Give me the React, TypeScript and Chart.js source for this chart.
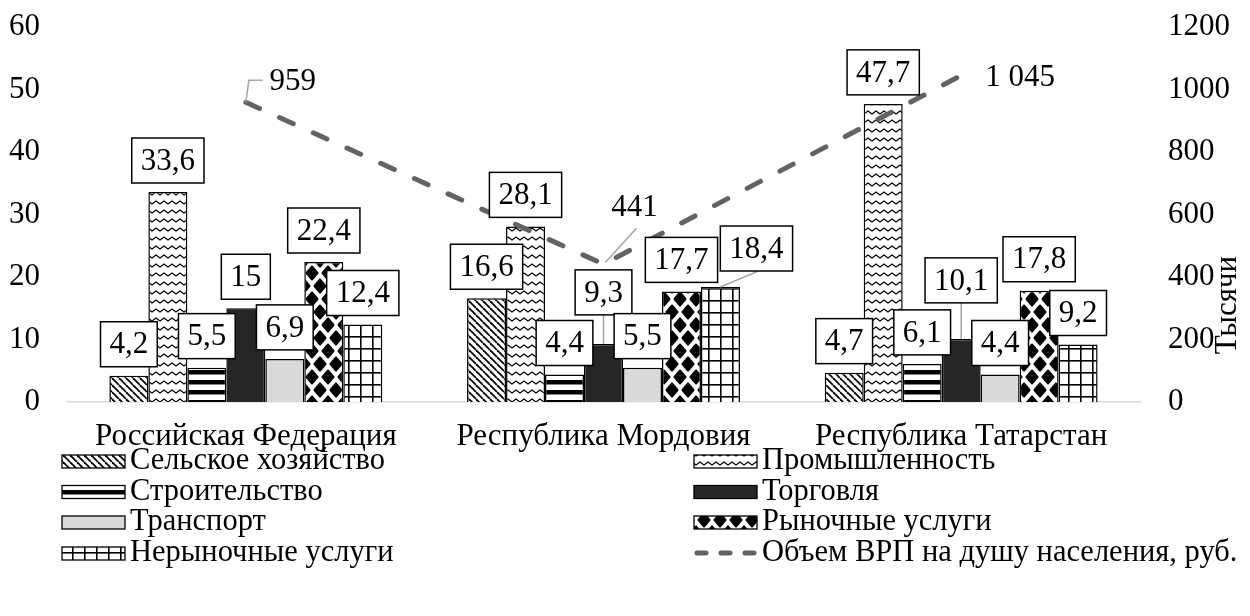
import React, { useEffect, useRef } from 'react';
import { Chart, registerables } from 'chart.js';

Chart.register(...registerables);

// ---------- data ----------
const categories = ['Российская Федерация', 'Республика Мордовия', 'Республика Татарстан'];
const seriesNames = [
  'Сельское хозяйство',
  'Промышленность',
  'Строительство',
  'Торговля',
  'Транспорт',
  'Рыночные услуги',
  'Нерыночные услуги',
];
const agriculture = [4.2, 16.6, 4.7];
const industry = [33.6, 28.1, 47.7];
const construction = [5.5, 4.4, 6.1];
const trade = [15, 9.3, 10.1];
const transport = [6.9, 5.5, 4.4];
const marketServices = [22.4, 17.7, 17.8];
const nonMarketServices = [12.4, 18.4, 9.2];
const grpPerCapita = [959, 441, 1045];
const lineName = 'Объем ВРП на душу населения, руб.';
const leftAxis = { min: 0, max: 60, step: 10 };
const rightAxis = { min: 0, max: 1200, step: 200 };
const rightAxisTitle = 'Тысячи';

// ---------- styles ----------
const FONT = "'Liberation Serif', 'Times New Roman', serif";
const W = 1250;
const H = 616;

// offsets of some data-label boxes (series-category) : moved up / sideways with leader lines
const labelOffsets: Record<string, { dx: number; dy: number }> = {
  '3-1': { dx: 0, dy: 20 },
  '3-2': { dx: 0, dy: 27 },
  '6-1': { dx: 36, dy: 7 },
};
const lineLabelOffsets = [
  { dx: 47, dy: -20, leader: 'bracket' },
  { dx: 31, dy: -56, leader: 'straight' },
  { dx: 59, dy: 2, leader: 'none' },
];

function tile(w: number, h: number, draw: (g: CanvasRenderingContext2D) => void) {
  const c = document.createElement('canvas');
  c.width = w;
  c.height = h;
  const g = c.getContext('2d') as CanvasRenderingContext2D;
  g.fillStyle = '#fff';
  g.fillRect(0, 0, w, h);
  g.fillStyle = '#000';
  g.strokeStyle = '#000';
  draw(g);
  return c;
}

function makeFills(ctx: CanvasRenderingContext2D): (CanvasPattern | string)[] {
  const diag = tile(7, 7, (g) => {
    g.lineWidth = 1.8;
    for (let k = -1; k <= 1; k++) {
      g.beginPath();
      g.moveTo(k * 7, 0);
      g.lineTo(k * 7 + 7, 7);
      g.stroke();
    }
  });
  const zig = tile(8, 9, (g) => {
    g.lineWidth = 1.3;
    g.beginPath();
    g.moveTo(-4, 3);
    g.lineTo(0, 6);
    g.lineTo(4, 3);
    g.lineTo(8, 6);
    g.lineTo(12, 3);
    g.stroke();
  });
  const stripes = tile(4, 10, (g) => {
    g.fillRect(0, 0, 4, 4.5);
  });
  const sphere = tile(16, 26, (g) => {
    const blob = (x: number, y: number) => {
      g.beginPath();
      g.moveTo(x, y - 6.5);
      g.lineTo(x + 5.5, y);
      g.lineTo(x, y + 6.5);
      g.lineTo(x - 5.5, y);
      g.closePath();
      g.lineJoin = 'round';
      g.lineWidth = 2;
      g.fill();
      g.stroke();
    };
    blob(0, 0);
    blob(16, 0);
    blob(0, 26);
    blob(16, 26);
    blob(8, 13);
  });
  const grid = tile(12, 12, (g) => {
    g.fillRect(0, 0, 1.6, 12);
    g.fillRect(0, 0, 12, 1.6);
  });
  const p = (c: HTMLCanvasElement) => ctx.createPattern(c, 'repeat') as CanvasPattern;
  return [p(diag), p(zig), p(stripes), '#262626', '#d9d9d9', p(sphere), p(grid)];
}

function fmtNum(v: number) {
  return String(v).replace('.', ',');
}
function fmtThousands(v: number) {
  return String(Math.round(v)).replace(/\B(?=(\d{3})+(?!\d))/g, ' ');
}

function makePlugin(fills: (CanvasPattern | string)[]) {
  return {
    id: 'customLabels',
    afterDatasetsDraw(chart: any) {
      const ctx: CanvasRenderingContext2D = chart.ctx;
      ctx.save();
      ctx.font = `31px ${FONT}`;
      ctx.textAlign = 'center';
      ctx.textBaseline = 'middle';
      for (let i = 0; i < seriesNames.length; i++) {
        const meta = chart.getDatasetMeta(i);
        meta.data.forEach((el: any, j: number) => {
          const v = chart.data.datasets[i].data[j] as number;
          const txt = fmtNum(v);
          const off = labelOffsets[`${i}-${j}`] || { dx: 0, dy: 0 };
          const tw = ctx.measureText(txt).width;
          const w = tw + 18;
          const h = 45;
          const cx = el.x + off.dx;
          const bottom = el.y - 9 - off.dy;
          const top = bottom - h;
          if (off.dx || off.dy) {
            ctx.strokeStyle = '#a6a6a6';
            ctx.lineWidth = 1.5;
            ctx.beginPath();
            ctx.moveTo(cx + (off.dx ? 2 : 0), bottom);
            ctx.lineTo(el.x, el.y);
            ctx.stroke();
          }
          ctx.fillStyle = '#fff';
          ctx.fillRect(cx - w / 2, top, w, h);
          ctx.strokeStyle = '#000';
          ctx.lineWidth = 1.5;
          ctx.strokeRect(cx - w / 2, top, w, h);
          ctx.fillStyle = '#000';
          ctx.fillText(txt, cx, top + h / 2 + 1);
        });
      }
      // line labels
      const lm = chart.getDatasetMeta(seriesNames.length);
      lm.data.forEach((pt: any, j: number) => {
        const o = lineLabelOffsets[j];
        const txt = fmtThousands(chart.data.datasets[seriesNames.length].data[j] as number);
        const tw = ctx.measureText(txt).width;
        const tx = pt.x + o.dx;
        const ty = pt.y + o.dy;
        ctx.strokeStyle = '#a6a6a6';
        ctx.lineWidth = 1.5;
        if (o.leader === 'bracket') {
          ctx.beginPath();
          ctx.moveTo(pt.x, pt.y);
          ctx.lineTo(pt.x + 3, ty - 2);
          ctx.lineTo(tx - tw / 2 - 7, ty - 2);
          ctx.stroke();
        } else if (o.leader === 'straight') {
          ctx.beginPath();
          ctx.moveTo(tx + 2, ty + 20);
          ctx.lineTo(pt.x + 2, pt.y - 2);
          ctx.stroke();
        }
        ctx.fillStyle = '#000';
        ctx.fillText(txt, tx, ty);
      });
      ctx.restore();
    },
    afterDraw(chart: any) {
      const ctx: CanvasRenderingContext2D = chart.ctx;
      ctx.save();
      // right axis title
      ctx.font = `31px ${FONT}`;
      ctx.fillStyle = '#000';
      ctx.textAlign = 'center';
      ctx.textBaseline = 'middle';
      ctx.translate(1228, 305);
      ctx.rotate(-Math.PI / 2);
      ctx.fillText(rightAxisTitle, 0, 0);
      ctx.setTransform(1, 0, 0, 1, 0, 0);

      // legend
      const rows = [461, 491.5, 522, 553];
      const cols = [
        { icon: 62, text: 130 },
        { icon: 694, text: 762 },
      ];
      ctx.font = `30.5px ${FONT}`;
      ctx.textAlign = 'left';
      const items: { name: string; idx: number }[] = seriesNames.map((n, i) => ({ name: n, idx: i }));
      items.push({ name: lineName, idx: -1 });
      items.forEach((it, k) => {
        const col = cols[k % 2];
        const y = rows[Math.floor(k / 2)];
        if (it.idx >= 0) {
          ctx.fillStyle = fills[it.idx] as any;
          ctx.fillRect(col.icon, y - 6, 63, 13);
          ctx.strokeStyle = '#000';
          ctx.lineWidth = 1.3;
          ctx.strokeRect(col.icon, y - 6, 63, 13);
        } else {
          ctx.strokeStyle = '#636363';
          ctx.lineWidth = 5;
          ctx.lineCap = 'round';
          ctx.setLineDash([9, 15]);
          ctx.beginPath();
          ctx.moveTo(col.icon + 3, y);
          ctx.lineTo(col.icon + 63, y);
          ctx.stroke();
          ctx.setLineDash([]);
          ctx.lineCap = 'butt';
        }
        ctx.fillStyle = '#000';
        ctx.fillText(it.name, col.text, y);
      });
      ctx.restore();
    },
  };
}

export default function App() {
  const ref = useRef<HTMLCanvasElement | null>(null);
  useEffect(() => {
    const canvas = ref.current;
    if (!canvas) return;
    const ctx = canvas.getContext('2d') as CanvasRenderingContext2D;
    const fills = makeFills(ctx);
    const seriesData = [agriculture, industry, construction, trade, transport, marketServices, nonMarketServices];
    const tickFont = { family: FONT, size: 31, lineHeight: 1.2 };
    const plain = (v: any) => String(v);
    const chart = new Chart(canvas, {
      type: 'bar',
      data: {
        labels: categories,
        datasets: [
          ...seriesData.map((d, i) => ({
            type: 'bar' as const,
            label: seriesNames[i],
            data: d,
            backgroundColor: fills[i] as any,
            borderColor: '#000',
            borderWidth: 1.5,
            categoryPercentage: 0.763,
            barPercentage: 1.0,
            yAxisID: 'y',
            order: 1,
          })),
          {
            type: 'line' as const,
            label: lineName,
            data: grpPerCapita,
            borderColor: '#636363',
            borderWidth: 5,
            borderDash: [15, 22],
            borderCapStyle: 'round',
            pointRadius: 0,
            tension: 0,
            fill: false,
            yAxisID: 'y1',
            order: 0,
          } as any,
        ],
      },
      options: {
        animation: false,
        responsive: false,
        maintainAspectRatio: false,
        layout: { padding: { top: 27, left: 0, right: 0, bottom: 0 } },
        plugins: { legend: { display: false }, tooltip: { enabled: false } },
        scales: {
          x: {
            grid: { display: false, drawTicks: false },
            border: { display: true, color: '#d9d9d9', width: 1.5 },
            ticks: { font: tickFont, color: '#000', padding: 16, maxRotation: 0, autoSkip: false },
            afterFit: (s: any) => {
              s.height = H - 402;
            },
          },
          y: {
            position: 'left',
            min: leftAxis.min,
            max: leftAxis.max,
            ticks: { stepSize: leftAxis.step, font: tickFont, color: '#000', padding: 27, callback: plain },
            grid: { display: false, drawTicks: false },
            border: { display: false },
            afterFit: (s: any) => {
              s.width = 67;
              s.paddingTop = 0;
              s.paddingBottom = 0;
            },
          },
          y1: {
            position: 'right',
            min: rightAxis.min,
            max: rightAxis.max,
            ticks: { stepSize: rightAxis.step, font: tickFont, color: '#000', padding: 28, callback: plain },
            grid: { display: false, drawTicks: false },
            border: { display: false },
            afterFit: (s: any) => {
              s.width = W - 1140;
              s.paddingTop = 0;
              s.paddingBottom = 0;
            },
          },
        },
      } as any,
      plugins: [makePlugin(fills)],
    });
    return () => chart.destroy();
  }, []);
  return (
    <div style={{ position: 'fixed', left: 0, top: 0, width: W, height: H, background: '#fff' }}>
      <canvas ref={ref} width={W} height={H} style={{ width: W, height: H, display: 'block' }} />
    </div>
  );
}
